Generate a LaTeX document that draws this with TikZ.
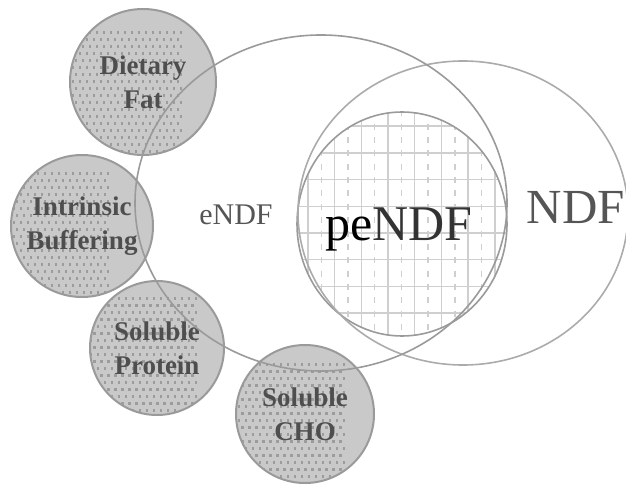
\documentclass[tikz,border=0pt]{standalone}
\usepackage{fontspec}
\setmainfont{Liberation Serif}
\usetikzlibrary{shapes.geometric}
\definecolor{dotfill}{HTML}{C9C9C9}
\definecolor{dotdark}{HTML}{9C9C9C}
\definecolor{rim}{HTML}{9A9A9A}
\definecolor{rimlight}{HTML}{ABABAB}
\definecolor{gridc}{HTML}{CFCFCF}
\definecolor{txt}{HTML}{4E4E4E}
\definecolor{bigtxt}{HTML}{555555}
\begin{document}
\begin{tikzpicture}[x=1pt,y=-1pt,
  factor/.style={circle, draw=rim, line width=2pt, fill=dotfill, minimum size=#1,
    inner sep=0pt, align=center, text=txt,
    font=\bfseries\fontsize{27}{34}\selectfont,
    path picture={
      \begin{scope}[shift={(path picture bounding box.center)}]
      \foreach \j in {-11,...,11}{
        \pgfmathsetmacro{\off}{Mod(\j,2)*3.5}
        \foreach \i in {-11,...,11}{
          \fill[dotdark] ({\i*7+\off}, {\j*7}) rectangle ++(2.4,2.4);
        }
      }
      \end{scope}
    }},
  region/.style={ellipse, inner sep=0pt, line width=1.6pt},
  lbl/.style={inner sep=0pt, anchor=base},
]
\useasboundingbox (0,0) rectangle (626,484);

% peNDF region with grid
\node[ellipse, minimum width=210, minimum height=224, inner sep=0pt,
  draw=rim, line width=1.6pt, fill=white,
  path picture={
    \begin{scope}[shift={(path picture bounding box.center)}]
      \foreach \k in {-4,...,4}{
        \draw[gridc, line width=1.4pt] ({\k*26.7-14},-130) -- ({\k*26.7-14},130);
        \draw[gridc, line width=1.4pt] (-130,{\k*26.7+9}) -- (130,{\k*26.7+9});
        \draw[gridc, line width=1.4pt, dash pattern=on 6pt off 7.35pt, dash phase=-3]
          ({\k*26.7-0.6},-130) -- ({\k*26.7-0.6},130);
      }
    \end{scope}
  }] (pe) at (402,224) {};

% NDF and eNDF regions
\node[region, draw=rimlight, minimum width=330, minimum height=304] (ndf) at (463,213) {};

% factors
\node[factor=146] (fat) at (143,82) {Dietary\\Fat};
\node[factor=142] (buf) at (82,226) {Intrinsic\\Buffering};
\node[factor=134] (prot) at (157,348) {Soluble\\Protein};
\node[factor=138] (cho) at (305,414) {Soluble\\CHO};

\node[region, draw=rim, minimum width=372, minimum height=336] (endf) at (321,203) {};

% labels
\node[lbl, text=bigtxt, font=\fontsize{30}{30}\selectfont] (le) at (236,224) {eNDF};
\node[lbl, font=\fontsize{50}{50}\selectfont] (lpe) at (399,240)
  {\textcolor{black}{pe}\textcolor{black!80}{NDF}};
\node[lbl, text=bigtxt, font=\fontsize{49}{49}\selectfont] (lndf) at (576,223) {NDF};
\end{tikzpicture}
\end{document}
